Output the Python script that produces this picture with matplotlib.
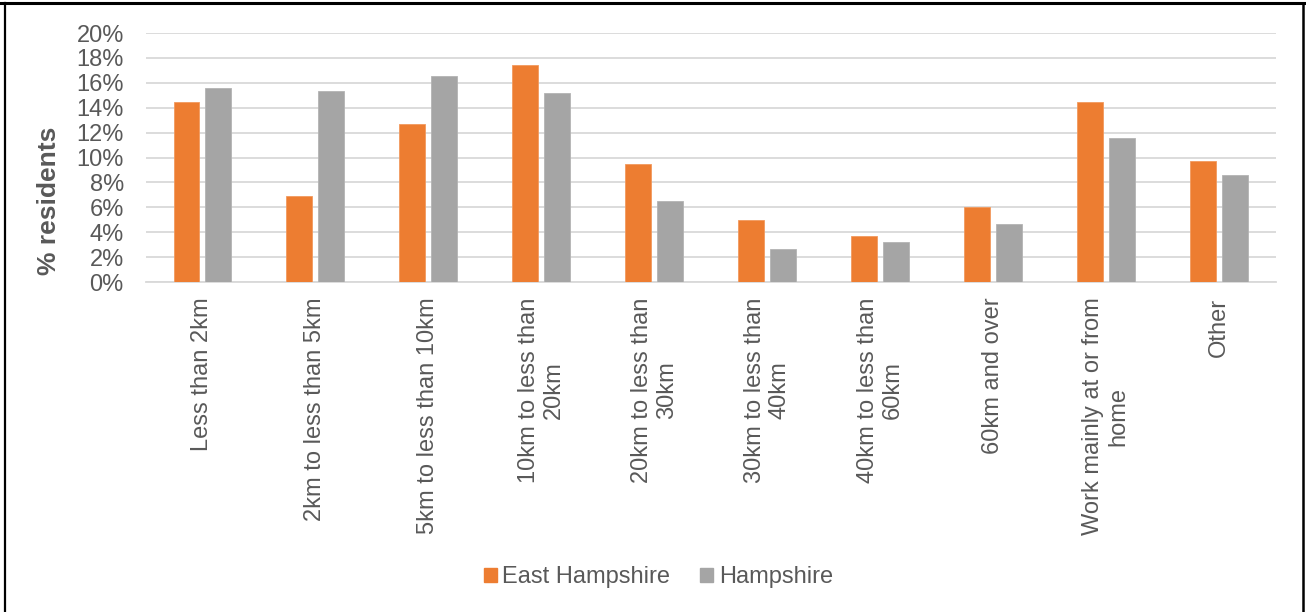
import numpy as np
import matplotlib.pyplot as plt
from matplotlib.lines import Line2D
from matplotlib.patches import Patch

plt.rcParams['font.family'] = ['Liberation Sans', 'DejaVu Sans']

categories = ['Less than 2km', '2km to less than 5km', '5km to less than 10km',
              '10km to less than\n20km', '20km to less than\n30km',
              '30km to less than\n40km', '40km to less than\n60km',
              '60km and over', 'Work mainly at or from\nhome', 'Other']
east_hants = [14.5, 6.9, 12.7, 17.4, 9.45, 5.0, 3.7, 6.0, 14.5, 9.7]
hants = [15.6, 15.35, 16.55, 15.2, 6.5, 2.7, 3.2, 4.65, 11.55, 8.6]
yticks = np.arange(0, 21, 2)

orange = '#ED7D31'
grey = '#A5A5A5'
txt = '#595959'

fig = plt.figure(figsize=(13.06, 6.12), dpi=100)
ax = fig.add_axes([0.1118, 0.539, 0.8649, 0.407])

x = np.arange(len(categories))
w = 0.23
ax.bar(x - 0.1416, east_hants, w, color=orange, edgecolor='#F29A5E', linewidth=0.6,
       label='East Hampshire', zorder=3)
ax.bar(x + 0.1416, hants, w, color=grey, edgecolor='#B4B4B4', linewidth=0.6,
       label='Hampshire', zorder=3)

ax.set_xlim(-0.5, len(categories) - 0.5)
ax.set_ylim(0, 20)
ax.set_yticks(yticks)
ax.set_yticklabels([f'{v}%' for v in yticks], fontsize=17, color=txt)
ax.set_xticks(x)
ax.set_xticklabels(categories, rotation=90, fontsize=17, color=txt,
                   ha='center', va='top', multialignment='center')
ax.tick_params(axis='both', length=0)
ax.tick_params(axis='y', pad=16)
ax.tick_params(axis='x', pad=11)

ax.grid(axis='y', color='#D9D9D9', linewidth=1.3, zorder=0)
for s in ['top', 'right', 'left']:
    ax.spines[s].set_visible(False)
ax.spines['bottom'].set_color('#D9D9D9')
ax.spines['bottom'].set_linewidth(1.3)

ax.set_ylabel('% residents', fontsize=19, fontweight='bold', color=txt)
ax.yaxis.set_label_coords(-0.0755, 0.325)

handles = [Patch(color=orange, label='East Hampshire'),
           Patch(color=grey, label='Hampshire')]
leg = fig.legend(handles=handles, loc='center', bbox_to_anchor=(658.5 / 1306, 1 - 577 / 612),
                 ncol=2, frameon=False, fontsize=17, handlelength=0.55, handleheight=0.55,
                 handletextpad=0.25, columnspacing=1.27)
for t in leg.get_texts():
    t.set_color(txt)

# frame around the figure
fw, fh = 1306, 612
fig.add_artist(Line2D([5 / fw, 5 / fw], [0, 1 - 3 / fh], color='black', lw=1.6,
                      transform=fig.transFigure))
fig.add_artist(Line2D([1302.5 / fw, 1302.5 / fw], [0, 1 - 3 / fh], color='black', lw=1.8,
                      transform=fig.transFigure))
fig.add_artist(Line2D([0, 1], [1 - 3 / fh, 1 - 3 / fh], color='black', lw=2.2,
                      transform=fig.transFigure))

fig.savefig('out.png', dpi=100, facecolor='white')
